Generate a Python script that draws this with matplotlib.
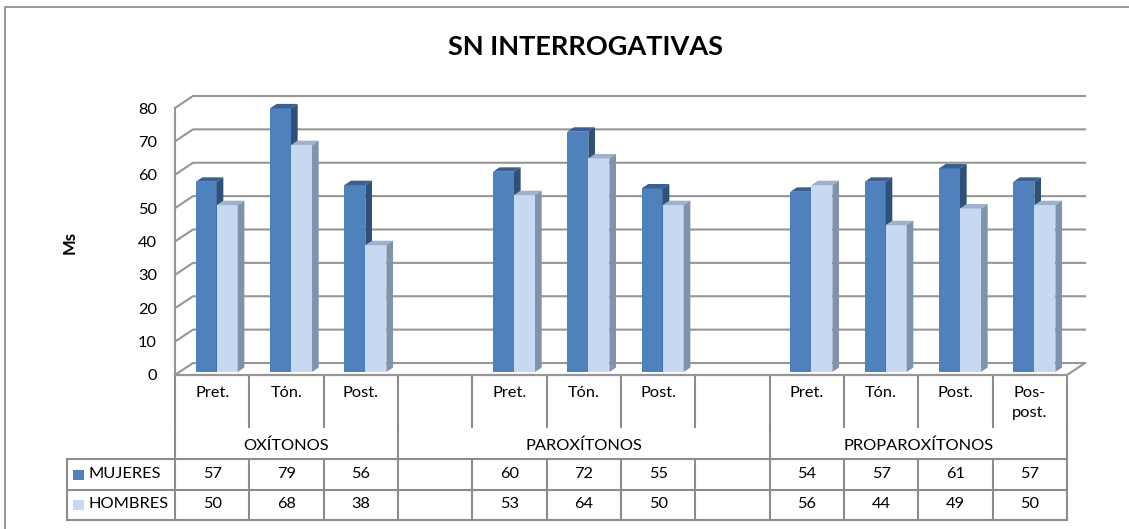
import matplotlib
matplotlib.use('Agg')
import matplotlib.pyplot as plt
from matplotlib.patches import Polygon, Rectangle

plt.rcParams['font.family'] = ['Lato', 'DejaVu Sans']

# data
categories = ['Pret.', 'Tón.', 'Post.', '', 'Pret.', 'Tón.', 'Post.', '',
              'Pret.', 'Tón.', 'Post.', 'Pos-\npost.']
groups = ['OXÍTONOS', 'PAROXÍTONOS', 'PROPAROXÍTONOS']
group_spans = [(0, 3), (3, 8), (8, 12)]
series = ['MUJERES', 'HOMBRES']
mujeres = [57, 79, 56, None, 60, 72, 55, None, 54, 57, 61, 57]
hombres = [50, 68, 38, None, 53, 64, 50, None, 56, 44, 49, 50]
yticks = [0, 10, 20, 30, 40, 50, 60, 70, 80]

# colours: front, top, side
styles = [('#4F81BD', '#3A6091', '#2E5079'),
          ('#C6D9F1', '#9EB2CC', '#8193AC')]
grid_col = '#969696'
line_col = '#8C8C8C'
fs = 11.8

W, H = 1129, 529
fig = plt.figure(figsize=(W / 100, H / 100), dpi=100)

# background axes in pixel coords for frame, title and data table
bg = fig.add_axes([0, 0, 1, 1])
bg.set_xlim(0, W)
bg.set_ylim(H, 0)
bg.axis('off')

PL, PR, PB, PT = 175, 1067, 375, 108
n = len(categories)
ax = fig.add_axes([PL / W, 1 - PB / H, (PR - PL) / W, (PB - PT) / H])
ax.set_xlim(0, n)
ax.set_ylim(0, 80)
ax.patch.set_visible(False)
for s in ax.spines.values():
    s.set_visible(False)
ax.set_xticks([])
ax.set_yticks(yticks)
ax.tick_params(axis='y', length=0, pad=13, labelsize=fs)

# 3d depth of the walls (in data units)
DX = 18 / ((PR - PL) / n)
DY = 12 / ((PB - PT) / 80)

# walls / gridlines
for v in yticks:
    ax.plot([0, DX, n + DX], [v, v + DY, v + DY], color=grid_col, lw=1.5,
            clip_on=False, zorder=1)
ax.plot([0, 0], [0, 80], color=grid_col, lw=1.5, clip_on=False, zorder=1)
ax.plot([0, n, n + DX], [0, 0, DY], color=grid_col, lw=1.5, clip_on=False, zorder=1)

# bars
bw = 0.283
d0, d1 = 0.25, 0.62
dd = d1 - d0
for k, vals in enumerate([mujeres, hombres]):
    front, top_c, side_c = styles[k]
    xs = [i + 0.5 - bw + k * bw + d0 * DX for i in range(n) if vals[i] is not None]
    vs = [v for v in vals if v is not None]
    ax.bar(xs, vs, width=bw, bottom=d0 * DY, align='edge', color=front,
           lw=0, zorder=3 + k, clip_on=False)
    for x, v in zip(xs, vs):
        b = d0 * DY
        t = v + d0 * DY
        ax.add_patch(Polygon([(x, t), (x + bw, t), (x + bw + dd * DX, t + dd * DY),
                              (x + dd * DX, t + dd * DY)], closed=True,
                             fc=top_c, lw=0, zorder=3 + k, clip_on=False))
        ax.add_patch(Polygon([(x + bw, b), (x + bw, t), (x + bw + dd * DX, t + dd * DY),
                              (x + bw + dd * DX, b + dd * DY)], closed=True,
                             fc=side_c, lw=0, zorder=3 + k, clip_on=False))

# frame (only left and top visible)
bg.plot([5, 5, W + 10], [H + 10, 7, 7], color='#868686', lw=1.2)

# title and y label
bg.text(585, 47, 'SN INTERROGATIVAS', ha='center', va='center',
        fontsize=19.5, fontweight='bold')
bg.text(70, 243, 'Ms', ha='center', va='center', rotation=90,
        fontsize=12, fontweight='bold')

# data table
sx = [PL + i * (PR - PL) / n for i in range(n + 1)]
lw = 1.5
for x in sx:
    bg.plot([x, x], [PB, 427], color=line_col, lw=lw)
    bg.plot([x, x], [459, 520], color=line_col, lw=lw)
for a, b in group_spans:
    bg.plot([sx[a], sx[a]], [427, 459], color=line_col, lw=lw)
bg.plot([sx[-1], sx[-1]], [427, 459], color=line_col, lw=lw)
bg.plot([67, 67], [459, 520], color=line_col, lw=lw)
for y in [459, 490, 520]:
    bg.plot([67, PR], [y, y], color=line_col, lw=lw)
bg.plot([PL, PR], [PB, PB], color=line_col, lw=lw)

for i, c in enumerate(categories):
    bg.text((sx[i] + sx[i + 1]) / 2, 386, c, ha='center', va='top',
            fontsize=fs, linespacing=1.55)
for (a, b), g in zip(group_spans, groups):
    bg.text((sx[a] + sx[b]) / 2, 446, g, ha='center', va='center', fontsize=fs)

rows_y = [474.5, 504.5]
for k, (name, vals) in enumerate(zip(series, [mujeres, hombres])):
    y = rows_y[k]
    bg.add_patch(Rectangle((73, y - 5), 11, 10, fc=styles[k][0], lw=0))
    bg.text(88, y, name, ha='left', va='center', fontsize=fs)
    for i, v in enumerate(vals):
        if v is not None:
            bg.text((sx[i] + sx[i + 1]) / 2, y, str(v), ha='center', va='center',
                    fontsize=fs)

fig.savefig('out.png', dpi=100)
